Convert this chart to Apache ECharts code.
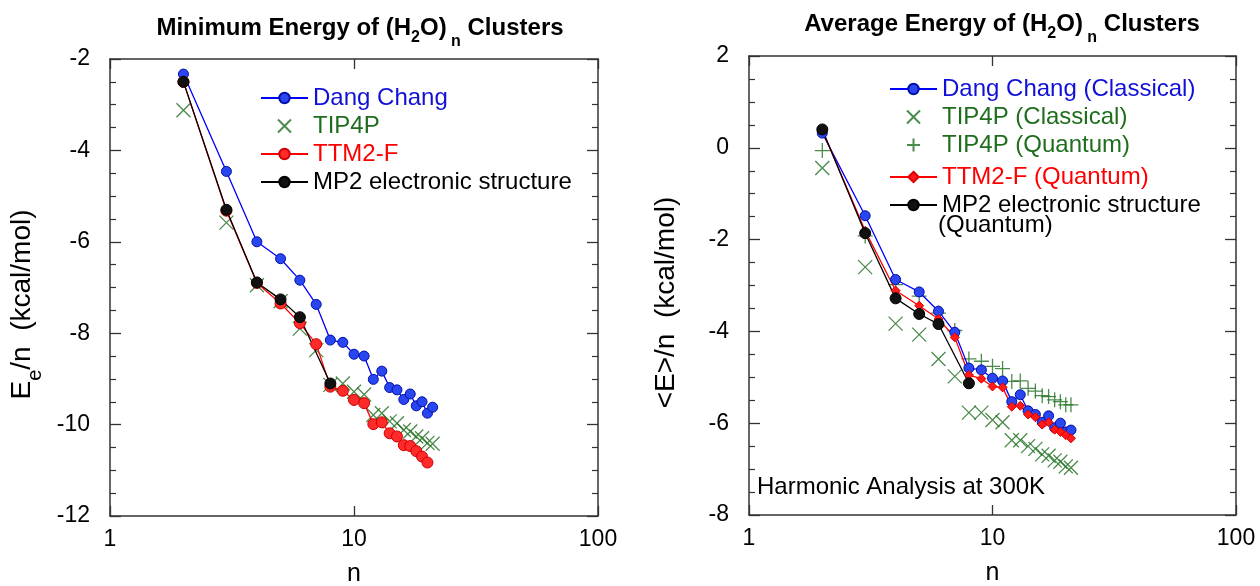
<!DOCTYPE html>
<html>
<head>
<meta charset="UTF-8">
<title>(H2O)n Clusters</title>
<style type="text/css">
	body { margin: 0; padding: 0; background: #fff; }
	#chart { width: 1260px; height: 586px; }
</style>
</head>
<body>
<div id="chart"></div>
<script src="https://cdn.jsdelivr.net/npm/echarts@6/dist/echarts.min.js"></script>
<script>
// ---- left panel: minimum energy E_e/n ----
var nAll = [2, 3, 4, 5, 6, 7, 8, 9, 10, 11, 12, 13, 14, 15, 16, 17, 18, 19, 20, 21];
var nTtmMin = [2, 3, 4, 5, 6, 7, 8, 9, 10, 11, 12, 13, 14, 15, 16, 17, 18, 19, 20];
var nMp2 = [2, 3, 4, 5, 6, 8];

var dangMin = [-2.33, -4.46, -6.00, -6.37, -6.84, -7.37, -8.15, -8.20, -8.46, -8.50, -9.01, -8.83, -9.19, -9.24, -9.45, -9.33, -9.59, -9.50, -9.75, -9.62];
var tip4pMin = [-3.12, -5.58, -6.95, -7.30, -7.90, -8.37, -9.13, -9.10, -9.28, -9.34, -9.79, -9.75, -9.93, -9.97, -10.12, -10.15, -10.26, -10.30, -10.40, -10.42];
var ttm2Min = [-2.50, -5.32, -6.90, -7.35, -7.78, -8.24, -9.17, -9.26, -9.46, -9.53, -9.99, -9.95, -10.19, -10.26, -10.45, -10.47, -10.58, -10.70, -10.83];
var mp2Min = [-2.50, -5.30, -6.89, -7.26, -7.65, -9.10];

// ---- right panel: average energy <E>/n at 300K ----
var dangAvg = [0.32, -1.48, -2.87, -3.14, -3.56, -4.02, -4.80, -4.84, -5.02, -5.08, -5.53, -5.38, -5.73, -5.81, -5.98, -5.84, -6.10, -6.00, -6.19, -6.15];
var tip4pCl = [-0.44, -2.60, -3.83, -4.07, -4.60, -4.98, -5.77, -5.77, -5.93, -5.98, -6.37, -6.37, -6.50, -6.56, -6.68, -6.71, -6.81, -6.84, -6.94, -6.97];
var tip4pQu = [-0.06, -1.92, -2.98, -3.23, -3.60, -3.98, -4.60, -4.65, -4.76, -4.81, -5.09, -5.08, -5.24, -5.30, -5.40, -5.42, -5.49, -5.53, -5.60, -5.60];
var ttm2Qu = [0.38, -1.81, -3.11, -3.44, -3.73, -4.13, -4.95, -5.03, -5.20, -5.22, -5.64, -5.62, -5.81, -5.87, -6.03, -5.98, -6.14, -6.19, -6.26, -6.33];
var mp2Qu = [0.40, -1.86, -3.28, -3.62, -3.84, -5.13];

var xTicks = [1, 10, 100];

var BLUE = '#0000ff', GREEN = '#1e6e1e', RED = '#ff0000', BLACK = '#000000';
var FONT = "'Liberation Sans', Arial, Helvetica, sans-serif";
var CROSS = 'path://M0,0L10,10M10,0L0,10';
var PLUS = 'path://M5,0L5,10M0,5L10,5';

function pairs(xs, ys) {
	var out = [];
	for (var i = 0; i < ys.length; i++) out.push([xs[i], ys[i]]);
	return out;
}

function xAxisFor(grid, pos) {
	var bottom = pos === 'bottom';
	return {
		type: 'log', logBase: 10, min: xTicks[0], max: xTicks[xTicks.length - 1],
		gridIndex: grid, position: pos,
		axisLine: { show: true, onZero: false, lineStyle: { color: '#333', width: 1.5 } },
		axisTick: { show: true, inside: true, length: 10, lineStyle: { color: '#333', width: 1.3 } },
		minorTick: { show: false },
		splitLine: { show: false },
		axisLabel: { show: bottom, fontSize: 23, color: '#000', fontFamily: FONT, margin: 12 },
		name: bottom ? 'n' : '', nameLocation: 'middle', nameGap: 46,
		nameTextStyle: { fontSize: 25, color: '#000', fontFamily: FONT }
	};
}

function yAxisFor(grid, pos, lo, hi, name, gap) {
	var left = pos === 'left';
	return {
		type: 'value', min: lo, max: hi, interval: 2,
		gridIndex: grid, position: pos,
		axisLine: { show: true, onZero: false, lineStyle: { color: '#333', width: 1.5 } },
		axisTick: { show: true, inside: true, length: 11, lineStyle: { color: '#333', width: 1.3 } },
		minorTick: { show: true, splitNumber: 4, length: 6, lineStyle: { color: '#333', width: 1.2 } },
		splitLine: { show: false },
		axisLabel: { show: left, fontSize: 23, color: '#000', fontFamily: FONT, margin: 20, padding: [7, 0, 0, 0] },
		name: left ? name : '', nameLocation: 'middle', nameGap: gap || 66,
		nameTextStyle: {
			fontFamily: FONT, color: '#000', padding: [0, 34, 0, 0],
			rich: {
				m: { fontSize: 28, lineHeight: 32, padding: [0, 0, 7, 0], fontFamily: FONT, color: '#000' },
				s: { fontSize: 20, lineHeight: 20, padding: [19, 0, 0, 0], fontFamily: FONT, color: '#000' }
			}
		}
	};
}

function dotLine(name, xi, xs, ys, color, fill, border, size, symbol) {
	return {
		name: name, type: 'line', xAxisIndex: xi, yAxisIndex: xi,
		data: pairs(xs, ys),
		symbol: symbol || 'circle', symbolSize: size, showSymbol: true,
		lineStyle: { color: color, width: 1.3 },
		itemStyle: { color: fill, borderColor: border, borderWidth: 1 },
		emphasis: { disabled: true }
	};
}

function markScatter(name, xi, xs, ys, symbol, size) {
	return {
		name: name, type: 'scatter', xAxisIndex: xi, yAxisIndex: xi,
		data: pairs(xs, ys),
		symbol: symbol, symbolSize: size, symbolKeepAspect: true,
		itemStyle: { color: GREEN, borderColor: GREEN, borderWidth: 1.3 },
		emphasis: { disabled: true }
	};
}

function titleRich(text, x, top) {
	return {
		text: text, left: x, top: top, textAlign: 'center',
		textStyle: {
			fontFamily: FONT, fontWeight: 'bold', color: '#000',
			rich: {
				m: { fontSize: 24, fontWeight: 'bold', lineHeight: 28, padding: [0, 0, 8, 0], fontFamily: FONT, color: '#000' },
				a: { fontSize: 16, fontWeight: 'bold', lineHeight: 16, padding: [16, 0, 4, 0], fontFamily: FONT, color: '#000' },
				b: { fontSize: 16, fontWeight: 'bold', lineHeight: 16, padding: [20, 0, 0, 0], fontFamily: FONT, color: '#000' }
			}
		}
	};
}

function legendBox(x, top, items) {
	return {
		left: x, top: top, orient: 'vertical', itemWidth: 47, itemHeight: 13, itemGap: 4,
		selectedMode: false, symbolKeepAspect: true,
		textStyle: { fontSize: 24, lineHeight: 24, fontFamily: FONT },
		data: items
	};
}

var chart = echarts.init(document.getElementById('chart'));
chart.setOption({
	animation: false,
	backgroundColor: '#fff',
	title: [
		titleRich('{m|Minimum Energy of (H}{a|2}{m|O)}{b| n}{m| Clusters}', 355, 13),
		titleRich('{m|Average Energy of (H}{a|2}{m|O)}{b| n}{m| Clusters}', 997, 9)
	],
	grid: [
		{ left: 110, top: 59, width: 488, height: 457, outerBoundsMode: 'none' },
		{ left: 749, top: 56, width: 487, height: 459, outerBoundsMode: 'none' }
	],
	xAxis: [xAxisFor(0, 'bottom'), xAxisFor(0, 'top'), xAxisFor(1, 'bottom'), xAxisFor(1, 'top')],
	yAxis: [
		yAxisFor(0, 'left', -12, -2, '{m|E}{s|e}{m|/n  (kcal/mol)}', 68),
		yAxisFor(0, 'right', -12, -2, ''),
		yAxisFor(1, 'left', -8, 2, '{m|<E>/n  (kcal/mol)}', 63),
		yAxisFor(1, 'right', -8, 2, '')
	],
	legend: [
		legendBox(255, 81, [
			{ name: 'Dang Chang', textStyle: { color: '#1010d8' } },
			{ name: 'TIP4P', textStyle: { color: GREEN } },
			{ name: 'TTM2-F', textStyle: { color: RED } },
			{ name: 'MP2 electronic structure', textStyle: { color: BLACK } }
		]),
		legendBox(884, 72, [
			{ name: 'Dang Chang (Classical)', textStyle: { color: '#1010d8' } },
			{ name: 'TIP4P (Classical)', textStyle: { color: GREEN } },
			{ name: 'TIP4P (Quantum)', textStyle: { color: GREEN } }
		]),
		legendBox(884, 160, [
			{ name: 'TTM2-F (Quantum)', textStyle: { color: RED } },
			{ name: 'MP2 electronic structure ', textStyle: { color: BLACK } }
		])
	],
	graphic: [
		{ type: 'text', left: 938, top: 213, style: { text: '(Quantum)', fontSize: 24, fontFamily: FONT, fill: '#000' } },
		{ type: 'text', left: 757, top: 475, style: { text: 'Harmonic Analysis at 300K', fontSize: 24, fontFamily: FONT, fill: '#000' } }
	],
	series: [
		// left panel
		dotLine('Dang Chang', 0, nAll, dangMin, BLUE, '#2a46f0', '#0010a8', 10),
		dotLine('TTM2-F', 0, nTtmMin, ttm2Min, RED, '#ff2a2a', '#d00000', 11),
		markScatter('TIP4P', 0, nAll, tip4pMin, CROSS, 14),
		dotLine('MP2 electronic structure', 0, nMp2, mp2Min, BLACK, '#111', '#000', 11),
		// right panel
		dotLine('Dang Chang (Classical)', 2, nAll, dangAvg, BLUE, '#2a46f0', '#0010a8', 10),
		dotLine('TTM2-F (Quantum)', 2, nAll, ttm2Qu, RED, '#ff1a1a', '#e00000', 9, 'diamond'),
		dotLine('MP2 electronic structure ', 2, nMp2, mp2Qu, BLACK, '#111', '#000', 11),
		markScatter('TIP4P (Classical)', 2, nAll, tip4pCl, CROSS, 14),
		markScatter('TIP4P (Quantum)', 2, nAll, tip4pQu, PLUS, 15)
	]
});
</script>
</body>
</html>
